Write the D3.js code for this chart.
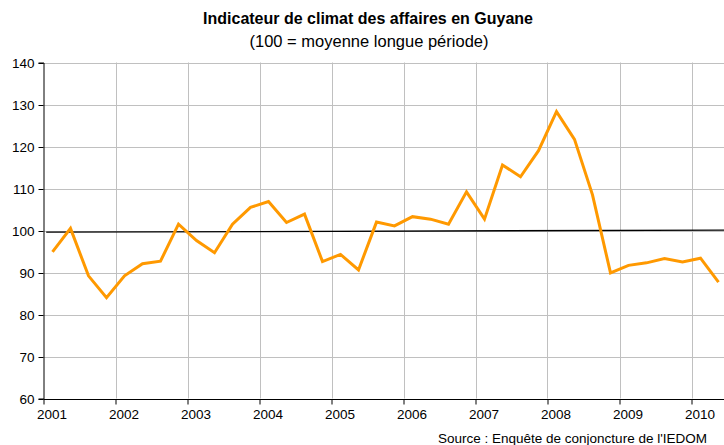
<!DOCTYPE html>
<html>
<head>
<meta charset="utf-8">
<script src="https://cdn.jsdelivr.net/npm/d3@7"></script>
<style>
  body { margin: 0; background: #fff; }
  svg { display: block; font-family: "Liberation Sans", Arial, sans-serif; }
</style>
</head>
<body>
<svg id="chart" width="724" height="445"></svg>
<script>
// quarterly business climate index, 2001 Q1 -> 2010 Q2
const years = ["2001", "2002", "2003", "2004", "2005", "2006", "2007", "2008", "2009", "2010"];
const values = [
  94.9, 100.5, 89.2, 84.0,
  89.2, 92.1, 92.7, 101.5,
  97.6, 94.7, 101.5, 105.5,
  106.9, 101.9, 103.9, 92.6,
  94.3, 90.6, 102.0, 101.1,
  103.3, 102.7, 101.5, 109.2,
  102.7, 115.6, 112.8, 119.0,
  128.3, 121.7, 108.5, 89.9,
  91.7, 92.3, 93.3, 92.5,
  93.4, 87.7
];
const meanLine = [99.6, 100.1];
const yTicks = [60, 70, 80, 90, 100, 110, 120, 130, 140];

const svg = d3.select("#chart");
const margin = { top: 62.5, left: 43.5 };
const quarterW = 18;
const nQuarters = 38;

const x = d3.scaleLinear()
  .domain([0, nQuarters])
  .range([margin.left, margin.left + nQuarters * quarterW]);

const y = d3.scaleLinear()
  .domain([60, 140])
  .range([398.5, margin.top]);

// title
svg.append("text")
  .attr("x", 368).attr("y", 24)
  .attr("text-anchor", "middle")
  .style("font-size", "16px").style("font-weight", "bold")
  .text("Indicateur de climat des affaires en Guyane");
svg.append("text")
  .attr("x", 369).attr("y", 47)
  .attr("text-anchor", "middle")
  .style("font-size", "16.5px")
  .text("(100 = moyenne longue période)");

// grid
const grid = svg.append("g");
grid.selectAll(".hg")
  .data(yTicks.filter(d => d > 60))
  .enter().append("line")
  .attr("x1", x(0)).attr("x2", x(nQuarters))
  .attr("y1", d => Math.round(y(d)) + 0.5).attr("y2", d => Math.round(y(d)) + 0.5)
  .attr("stroke", "#c0c0c0").attr("stroke-width", 1);
grid.selectAll(".vg")
  .data(years.map((d, i) => i * 4).filter(d => d > 0))
  .enter().append("line")
  .attr("x1", d => Math.round(x(d)) + 0.5).attr("x2", d => Math.round(x(d)) + 0.5)
  .attr("y1", y(140)).attr("y2", y(60))
  .attr("stroke", "#c0c0c0").attr("stroke-width", 1);

// y axis
const yAxis = d3.axisLeft(y)
  .tickValues(yTicks)
  .tickSize(5)
  .tickPadding(4);
const gy = svg.append("g")
  .attr("transform", `translate(${x(0)},0)`)
  .call(yAxis);
gy.select(".domain").attr("stroke", "#000");
gy.selectAll("line").attr("stroke", "#000");
gy.selectAll("text").style("font-size", "13.5px").attr("fill", "#000");
gy.selectAll(".tick").attr("transform", d => `translate(0,${Math.round(y(d)) + 0.5})`);

// x axis
const xAxis = d3.axisBottom(x)
  .tickValues(years.map((d, i) => i * 4))
  .tickFormat((d, i) => years[i])
  .tickSize(5)
  .tickPadding(5);
const gx = svg.append("g")
  .attr("transform", `translate(0,${Math.round(y(60)) + 0.5})`)
  .call(xAxis);
gx.select(".domain").attr("d", `M${x(0)},0H${x(nQuarters)}`).attr("stroke", "#000");
gx.selectAll("line").attr("stroke", "#000");
gx.selectAll("text").style("font-size", "13.5px").attr("fill", "#000").attr("x", 8);

// mean line
svg.append("line")
  .attr("x1", x(0.15)).attr("x2", x(nQuarters))
  .attr("y1", y(meanLine[0])).attr("y2", y(meanLine[1]))
  .attr("stroke", "#000").attr("stroke-width", 1.3);

// series
const line = d3.line()
  .x((d, i) => x(i + 0.5))
  .y(d => y(d));
svg.append("path")
  .datum(values)
  .attr("d", line)
  .attr("fill", "none")
  .attr("stroke", "#ff9900")
  .attr("stroke-width", 3)
  .attr("stroke-linejoin", "miter");

// source
svg.append("text")
  .attr("x", 438).attr("y", 443)
  .style("font-size", "13.5px")
  .text("Source : Enquête de conjoncture de l'IEDOM");
</script>
</body>
</html>
